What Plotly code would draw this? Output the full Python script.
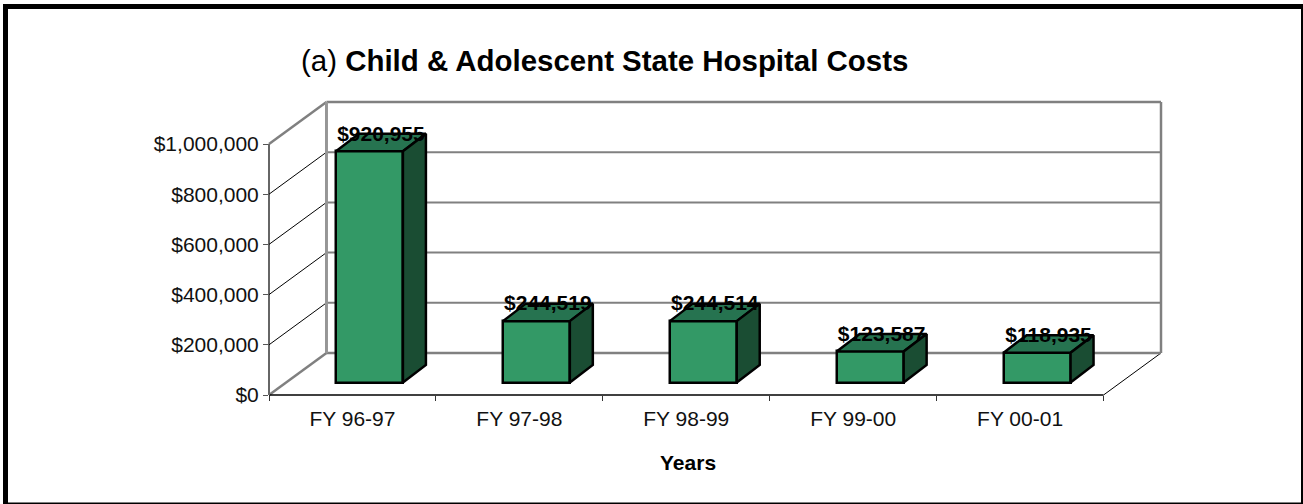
import plotly.graph_objects as go

categories = ["FY 96-97", "FY 97-98", "FY 98-99", "FY 99-00", "FY 00-01"]
costs = [920955, 244519, 244514, 123587, 118935]
labels = ["$920,955", "$244,519", "$244,514", "$123,587", "$118,935"]
y_ticks = [0, 200000, 400000, 600000, 800000, 1000000]
y_labels = ["$0", "$200,000", "$400,000", "$600,000", "$800,000", "$1,000,000"]

W, H = 1303, 504
L, R, T, B = 269, 1161, 102, 395      # plot-area pixel box
CAT_W = 167.0
UNIT = 251.0 / 1e6                     # px per dollar
DX = 57.5 / CAT_W                      # wall depth in category units
DY = 42.0 / UNIT                       # wall depth in dollars
x_min, x_max = -0.5, 4.5 + DX
y_max = (B - T) / UNIT
BAR_W = 67.0 / CAT_W
BAR_X0 = 17.0 / CAT_W                  # front-face shift towards the wall
BAR_Y0 = 12.5 / UNIT
BDX = 23.0 / CAT_W                     # bar depth
BDY = 17.5 / UNIT
LABEL_DROP = 1.5 / UNIT

GREEN, TOP, SIDE = "#339966", "#267350", "#1a4d33"
FONT = "Liberation Sans, Arial, sans-serif"


def px(x):
    return (x - L) / (R - L)


def py(y):
    return (B - y) / (B - T)


fig = go.Figure()
wall_shapes = []


def line(xs, ys, color, width):
    for i in range(len(xs) - 1):
        wall_shapes.append(dict(type="line", xref="x", yref="y", layer="below",
                                x0=xs[i], x1=xs[i + 1], y0=ys[i], y1=ys[i + 1],
                                line=dict(color=color, width=width)))


def edge(xs, ys, color, width):
    # edges on the plot-area border: paper refs so that they are not clipped to half their width
    for i in range(len(xs) - 1):
        wall_shapes.append(dict(type="line", xref="paper", yref="paper", layer="below",
                                x0=(xs[i] - x_min) / (x_max - x_min), x1=(xs[i + 1] - x_min) / (x_max - x_min),
                                y0=ys[i] / y_max, y1=ys[i + 1] / y_max,
                                line=dict(color=color, width=width)))


# walls
for v in y_ticks[1:-1]:
    line([-0.5 + DX, x_max], [v + DY, v + DY], "#808080", 2)
    line([-0.5, -0.5 + DX], [v, v + DY], "#000000", 1)
line([-0.5 + DX, x_max], [DY, DY], "#808080", 2.5)
line([-0.5 + DX, -0.5 + DX], [DY, y_ticks[-1] + DY], "#969696", 3)
edge([-0.5, -0.5 + DX], [y_ticks[-1], y_ticks[-1] + DY], "#808080", 2.5)
edge([-0.5, -0.5 + DX], [0, DY], "#808080", 2.5)
edge([4.5, x_max], [0, DY], "#000000", 1)
edge([-0.5 + DX, x_max, x_max], [y_ticks[-1] + DY, y_ticks[-1] + DY, DY], "#808080", 2.5)
edge([-0.5, 4.5], [0, 0], "#000000", 1.5)
edge([-0.5, -0.5], [0, y_ticks[-1]], "#666666", 2)

# bar front faces
centers = [i + BAR_X0 for i in range(len(costs))]
fig.add_trace(go.Bar(x=centers, y=costs, base=BAR_Y0, width=BAR_W, showlegend=False,
                     marker=dict(color=GREEN, line=dict(color="#000000", width=2.5))))

# bar tops and sides
for c, v in zip(centers, costs):
    x0, x1 = c - BAR_W / 2, c + BAR_W / 2
    y0, y1 = BAR_Y0, BAR_Y0 + v
    fig.add_trace(go.Scatter(x=[x0, x0 + BDX, x1 + BDX, x1, x0],
                             y=[y1, y1 + BDY, y1 + BDY, y1, y1],
                             fill="toself", fillcolor=TOP, mode="lines", hoverinfo="skip", showlegend=False,
                             line=dict(color="#000000", width=2.5)))
    fig.add_trace(go.Scatter(x=[x1, x1 + BDX, x1 + BDX, x1, x1],
                             y=[y1, y1 + BDY, y0 + BDY, y0, y1],
                             fill="toself", fillcolor=SIDE, mode="lines", hoverinfo="skip", showlegend=False,
                             line=dict(color="#000000", width=2.5)))

# value labels
fig.add_trace(go.Scatter(x=[c + BDX / 2 for c in centers],
                         y=[BAR_Y0 + v + BDY - LABEL_DROP for v in costs],
                         text=labels, mode="text", textposition="middle center", hoverinfo="skip",
                         showlegend=False,
                         textfont=dict(family=FONT, size=21, color="#000000", weight="bold")))


def frame(x0, y0, x1, y1):
    return dict(type="rect", xref="paper", yref="paper", x0=px(x0), x1=px(x1), y0=py(y0), y1=py(y1),
                line=dict(width=0), fillcolor="#000000", layer="below")


fig.update_layout(
    width=W, height=H, autosize=False, bargap=0,
    margin=dict(l=L, r=W - R, t=T, b=H - B, pad=0),
    paper_bgcolor="#ffffff", plot_bgcolor="rgba(0,0,0,0)",
    font=dict(family=FONT, color="#000000"),
    xaxis=dict(range=[x_min, x_max], showgrid=False, zeroline=False, showline=False,
               tickmode="array", tickvals=list(range(len(categories))), ticktext=categories,
               ticks="", tickfont=dict(size=21, color="#111111"), ticklabelstandoff=9,
               minor=dict(tickmode="array", tickvals=[i - 0.5 for i in range(len(categories) + 1)],
                          ticks="outside", ticklen=5, tickwidth=1, tickcolor="#333333", showgrid=False)),
    yaxis=dict(range=[0, y_max], showgrid=False, zeroline=False, showline=False,
               tickmode="array", tickvals=y_ticks, ticktext=y_labels,
               ticks="outside", ticklen=5, tickwidth=1, tickcolor="#555555",
               tickfont=dict(size=21, color="#111111")),
    annotations=[
        dict(xref="paper", yref="paper", x=px(299), y=py(61), xanchor="left", yanchor="middle",
             text="(a) <b>Child &amp; Adolescent State Hospital Costs</b>", showarrow=False,
             font=dict(size=29.45, color="#000000")),
        dict(xref="paper", yref="paper", x=px(688), y=py(463), xanchor="center", yanchor="middle",
             text="<b>Years</b>", showarrow=False, font=dict(size=21, color="#000000")),
    ],
    shapes=wall_shapes + [frame(3, 4, W - 2, 9), frame(3, 4, 8, H), frame(W - 2, 4, W, H), frame(3, H - 1.5, W, H)],
)

fig.write_html("out.html", config=dict(displayModeBar=False),
               post_script="document.body.style.margin='0';document.body.style.overflow='hidden';")
